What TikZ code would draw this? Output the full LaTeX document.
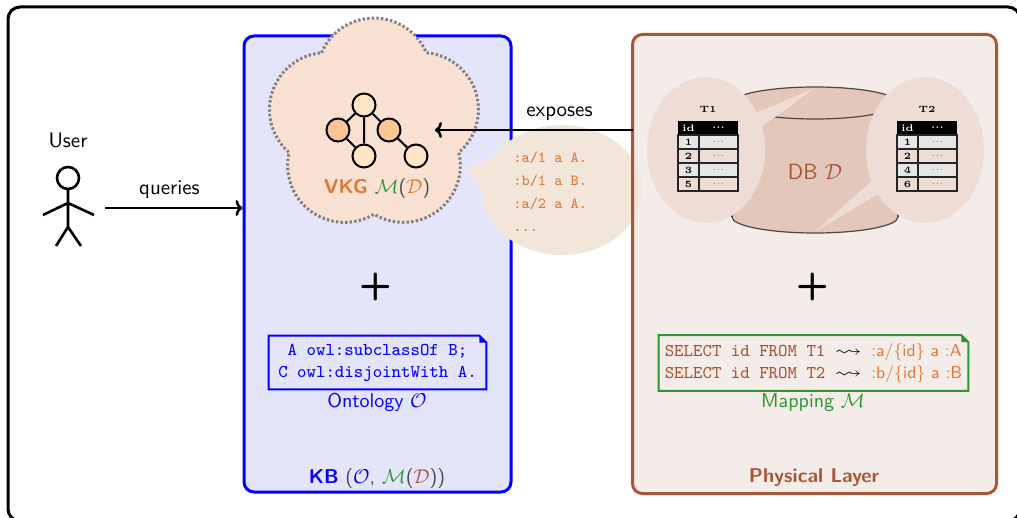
\documentclass[tikz,border=0pt]{standalone}
\usepackage{amssymb}
\usepackage{graphicx}
\usetikzlibrary{shapes.callouts,arrows.meta}

\definecolor{kbblue}{RGB}{0,0,255}
\definecolor{kbfill}{RGB}{228,228,250}
\definecolor{sienna}{RGB}{168,86,52}
\definecolor{physfill}{RGB}{244,236,233}
\definecolor{cylfill}{RGB}{226,199,186}
\definecolor{tfill}{RGB}{237,221,213}
\definecolor{cloudfill}{RGB}{248,224,210}
\definecolor{bubblefill}{RGB}{242,230,218}
\definecolor{vkgorange}{RGB}{222,120,50}
\definecolor{mapgreen}{RGB}{45,150,45}
\definecolor{glight}{RGB}{255,228,198}
\definecolor{gdark}{RGB}{250,198,150}
\definecolor{parengray}{RGB}{70,70,70}
\definecolor{rowgray}{RGB}{230,230,230}
\definecolor{cylline}{RGB}{80,70,65}

\tikzset{
  every node/.style={font=\sffamily\fontsize{10.5}{12.5}\selectfont},
  frame/.style={draw=black, line width=1.5pt, rounded corners=6pt},
  layerbox/.style={rectangle, rounded corners=5pt, line width=1.5pt, inner sep=0pt},
  arr/.style={-{To[length=3.5pt,width=8pt]}, line width=1.3pt},
  gnode/.style={circle, draw=black, line width=1pt, minimum size=11.5pt, inner sep=0pt, fill=glight},
  gedge/.style={draw=black, line width=1pt},
  vkgcloud/.style={fill=cloudfill, draw=gray, line width=1.5pt, dash pattern=on 1.2pt off 1.1pt},
  tablecallout/.style={ellipse callout, fill=tfill, minimum width=59pt, minimum height=73pt, inner sep=0pt, callout pointer arc=12},
  tabtitle/.style={font=\rmfamily\bfseries\fontsize{4.6}{5}\selectfont, inner sep=0pt},
  tabhead/.style={font=\rmfamily\bfseries\fontsize{4.8}{5}\selectfont, text=white, inner sep=0pt},
  tabcell/.style={font=\rmfamily\bfseries\fontsize{4.8}{5}\selectfont, inner sep=0pt},
  tabdots/.style={font=\rmfamily\fontsize{4.8}{5}\selectfont, text=sienna!70!gray, inner sep=0pt},
  tabrule/.style={draw=black!85, line width=0.7pt},
  cylout/.style={draw=cylline, line width=0.6pt},
  factstyle/.style={font=\ttfamily\fontsize{7.7}{11.5}\selectfont, text=vkgorange, align=left, inner sep=0pt},
  notebox/.style={rectangle, inner sep=0pt, font=\ttfamily\fontsize{9}{11}\selectfont},
  plussign/.style={font=\sffamily\bfseries\fontsize{19}{19}\selectfont, inner sep=0pt},
  boldlabel/.style={font=\sffamily\bfseries\fontsize{10}{12}\selectfont},
}

% a small table with a black header row
\newcommand\dbtable[3]{%
  \begin{scope}[shift={(#1,121)}]
    \node[tabtitle] (#2title) at (30,-12) {#2};
    \fill[black] (0,0) rectangle (60,14);
    \node[tabhead] (#2hid) at (10.5,7) {id};
    \node[tabhead] (#2hval) at (40.5,7) {...};
    \foreach \v [count=\i] in {#3} {
      \ifodd\i \fill[rowgray] (0,{14*\i}) rectangle (60,{14*\i+14}); \fi
      \draw[tabrule] (0,{14*\i}) rectangle (21,{14*\i+14})
                     (21,{14*\i}) rectangle (60,{14*\i+14});
      \node[tabcell] (#2n\i) at (10.5,{14*\i+7}) {\v};
      \node[tabdots] (#2v\i) at (40.5,{14*\i+7}) {...};
    }
  \end{scope}}

% outline of a note with a folded top-right corner
\newcommand\notecorner[2]{%
  \draw[#2, line width=1pt] (#1.north west) -- ([xshift=-3.5pt]#1.north east)
     -- ([yshift=-3.5pt]#1.north east) -- (#1.south east) -- (#1.south west) -- cycle;
  \fill[#2] ([xshift=-3.5pt]#1.north east) -- ([xshift=-3.5pt,yshift=-3.5pt]#1.north east)
     -- ([yshift=-3.5pt]#1.north east) -- cycle;}

% a wide squiggly arrow for the mapping assertions
\newcommand\mapsarrow{\scalebox{1.5}[1]{$\rightsquigarrow$}}

\begin{document}
\begin{tikzpicture}[x=0.5pt,y=-0.5pt]
\clip (0,0) rectangle (1017,518);
\fill[white] (0,0) rectangle (1017,518);
\draw[frame] (8,7) rectangle (1020,521);

% knowledge base and physical layer
\node[layerbox, draw=kbblue, fill=kbfill, minimum width=133.5pt, minimum height=228pt] (kb) at (377.5,264) {};
\node[layerbox, fill=physfill, minimum width=180.5pt, minimum height=228pt] (phys) at (814.5,264) {};

% database cylinder
\fill[cylfill] (732,103) -- (732,217) arc[start angle=180,end angle=0,x radius=83,y radius=16]
   -- (898,103) arc[start angle=0,end angle=-180,x radius=83,y radius=16] -- cycle;
\draw[cylout] (815,103) ellipse[x radius=83,y radius=16];
\draw[cylout] (732,217) arc[start angle=180,end angle=0,x radius=83,y radius=16];
\draw[cylout] (732,103) -- (732,217) (898,103) -- (898,217);
\coordinate (dbtop) at (815,88);
\coordinate (dbbottom) at (815,232);
\node[text=sienna, font=\sffamily\fontsize{11}{13}\selectfont] (db) at (815,172) {DB $\mathcal{D}$};

% zoomed tables
\node[tablecallout, callout absolute pointer={(dbtop)}] (t1zoom) at (706,150) {};
\node[tablecallout, callout absolute pointer={(dbbottom)}] (t2zoom) at (925,150) {};
\dbtable{678}{T1}{1,2,3,5}
\dbtable{897}{T2}{1,2,4,6}

% exposed facts
\node[ellipse callout, fill=bubblefill, minimum width=80pt, minimum height=65pt, inner sep=0pt,
      callout absolute pointer={(466,169)}, callout pointer arc=28] (facts) at (562,190) {};
\node[factstyle, anchor=west] (factlines) at (513,192) {:a/1 a A.\\:b/1 a B.\\:a/2 a A.\\...};

% virtual knowledge graph
\draw[vkgcloud] (374,125) ++(234:89.3)
   arc[start angle=203,end angle=337,radius=57]
   arc[start angle=275,end angle=409,radius=57]
   arc[start angle=347,end angle=481,radius=57]
   arc[start angle=59,end angle=193,radius=57]
   arc[start angle=131,end angle=265,radius=57] -- cycle;
\node[gnode] (g1) at (364,105) {};
\node[gnode, fill=gdark] (g2) at (338,130) {};
\node[gnode, fill=gdark] (g3) at (389,130) {};
\node[gnode] (g4) at (364,156) {};
\node[gnode] (g5) at (416,156) {};
\draw[gedge] (g1) -- (g2) (g1) -- (g3) (g1) -- (g4) (g2) -- (g4) (g3) -- (g5);
\node[text=vkgorange, font=\sffamily\fontsize{10}{12}\selectfont] (vkglabel) at (377,189)
  {\textbf{VKG} \textcolor{mapgreen}{$\mathcal{M}$}\textcolor{parengray}{(}$\mathcal{D}$\textcolor{parengray}{)}};
\coordinate (vkgport) at (435,130);

% physical layer border on top of the facts bubble
\draw[draw=sienna, line width=1.5pt, rounded corners=5pt] (phys.north west) rectangle (phys.south east);

% user
\node[minimum width=28pt, minimum height=50pt, inner sep=0pt] (user) at (68,208) {};
\node (userlabel) at (68,140) {User};
\draw[line width=1.3pt] (68,178) circle[radius=11];
\draw[line width=1.3pt] (68,189) -- (68,227) (43,215) -- (68,203) -- (94,215)
   (56,246) -- (68,227) -- (81,246);

% connectors
\draw[arr, shorten <=4.5pt] (user.east) -- (user.east -| kb.west) node[midway, above=0.5pt] (querieslabel) {queries};
\draw[arr] (phys.west |- vkgport) -- (vkgport) node[pos=0.37, above=0.5pt] (exposeslabel) {exposes};

% ontology
\node[plussign] (kbplus) at (376,287) {+};
\node[notebox, text=kbblue, align=center, minimum width=108.5pt, minimum height=26.5pt] (onto) at (377.5,362.5)
  {A owl:subclassOf B;\\C owl:disjointWith A.};
\notecorner{onto}{kbblue}
\node[text=kbblue, font=\sffamily\fontsize{10}{12}\selectfont] (ontolabel) at (377,402) {Ontology $\mathcal{O}$};

% mapping
\node[plussign] (physplus) at (813,287) {+};
\node[notebox, align=left, minimum width=154.5pt, minimum height=27.5pt] (map) at (813.5,363)
  {\textcolor{sienna}{SELECT id FROM T1} \mapsarrow\ \textcolor{vkgorange}{\sffamily\fontsize{8.6}{11}\selectfont :a/\{id\} a :A}\\
   \textcolor{sienna}{SELECT id FROM T2} \mapsarrow\ \textcolor{vkgorange}{\sffamily\fontsize{8.6}{11}\selectfont :b/\{id\} a :B}};
\notecorner{map}{mapgreen}
\node[text=mapgreen, font=\sffamily\fontsize{10}{12}\selectfont] (maplabel) at (813,403) {Mapping $\mathcal{M}$};

% layer captions
\node[text=kbblue, font=\sffamily\fontsize{10}{12}\selectfont] (kblabel) at (377,478)
  {\textbf{KB} \textcolor{parengray}{(}$\mathcal{O}$\textcolor{parengray}{,} \textcolor{mapgreen}{$\mathcal{M}$}\textcolor{parengray}{(}\textcolor{sienna}{$\mathcal{D}$}\textcolor{parengray}{))}};
\node[boldlabel, text=sienna] (physlabel) at (814,478) {Physical Layer};
\end{tikzpicture}
\end{document}
